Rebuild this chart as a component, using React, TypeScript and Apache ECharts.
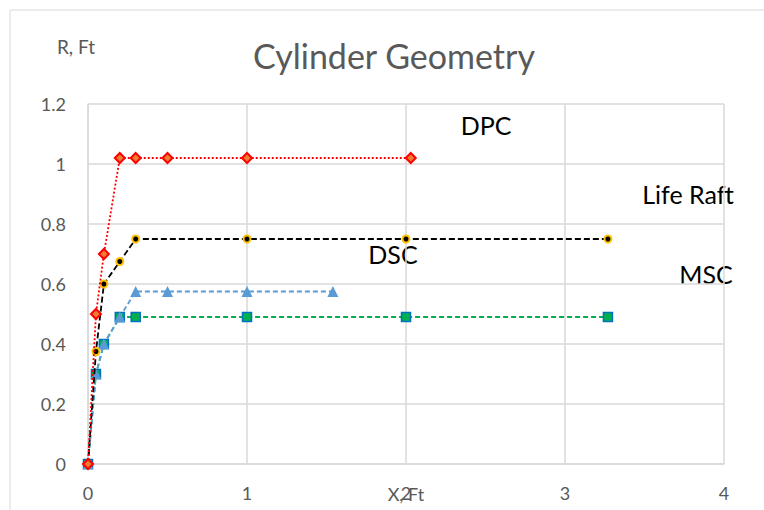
import React, { useEffect, useRef } from "react";
import * as echarts from "echarts";

const dpcX = [0, 0.05, 0.1, 0.2, 0.3, 0.5, 1, 2.03];
const dpcY = [0, 0.5, 0.7, 1.02, 1.02, 1.02, 1.02, 1.02];
const dscX = [0, 0.05, 0.1, 0.2, 0.3, 1, 2, 3.27];
const dscY = [0, 0.375, 0.6, 0.675, 0.75, 0.75, 0.75, 0.75];
const raftX = [0, 0.05, 0.1, 0.2, 0.3, 0.5, 1, 1.54];
const raftY = [0, 0.3, 0.4, 0.49, 0.575, 0.575, 0.575, 0.575];
const mscX = [0, 0.05, 0.1, 0.2, 0.3, 1, 2, 3.27];
const mscY = [0, 0.3, 0.4, 0.49, 0.49, 0.49, 0.49, 0.49];

const zip = (xs: number[], ys: number[]) => xs.map((x, i) => [x, ys[i]]);

const FONT = "Lato, 'Open Sans', sans-serif";

export default function App() {
  const ref = useRef<HTMLDivElement>(null);
  useEffect(() => {
    if (!ref.current) return;
    const chart = echarts.init(ref.current, undefined, { renderer: "svg" });
    chart.setOption({
      animation: false,
      backgroundColor: "#ffffff",
      textStyle: { fontFamily: FONT },
      grid: {
        left: 88,
        right: 40,
        top: 104,
        bottom: 46,
        containLabel: false,
        outerBoundsMode: "none",
      },
      xAxis: {
        type: "value",
        min: 0,
        max: 4,
        interval: 1,
        name: "X, Ft",
        nameLocation: "middle",
        nameGap: 21,
        nameMoveOverlap: false,
        nameTextStyle: { color: "#595959", fontSize: 18, fontFamily: FONT },
        axisLine: { show: true, lineStyle: { color: "#d9d9d9", width: 1.5 } },
        axisTick: { show: false },
        axisLabel: { color: "#595959", fontSize: 18, margin: 20, fontFamily: FONT },
        splitLine: { show: true, lineStyle: { color: "#d9d9d9", width: 1.5 } },
      },
      yAxis: {
        type: "value",
        min: 0,
        max: 1.2,
        interval: 0.2,
        axisLine: { show: true, lineStyle: { color: "#d9d9d9", width: 1.5 } },
        axisTick: { show: false },
        axisLabel: {
          color: "#595959",
          fontSize: 18,
          margin: 22,
          fontFamily: FONT,
          formatter: (v: number) => String(Math.round(v * 10) / 10),
        },
        splitLine: { show: true, lineStyle: { color: "#d9d9d9", width: 1.5 } },
      },
      series: [
        {
          name: "MSC",
          type: "line",
          data: zip(mscX, mscY),
          symbol: "rect",
          symbolSize: 9,
          lineStyle: { color: "#00B050", width: 1.8, type: [5, 3] },
          itemStyle: { color: "#00B050", borderColor: "#0070C0", borderWidth: 1.5 },
          z: 2,
        },
        {
          name: "Life Raft",
          type: "line",
          data: zip(raftX, raftY),
          symbol: "triangle",
          symbolSize: 11,
          lineStyle: { color: "#5B9BD5", width: 1.8, type: [5, 3] },
          itemStyle: { color: "#5B9BD5", borderColor: "#5B9BD5", borderWidth: 0 },
          z: 3,
        },
        {
          name: "DSC",
          type: "line",
          data: zip(dscX, dscY),
          symbol: "circle",
          symbolSize: 7,
          lineStyle: { color: "#000000", width: 1.8, type: [6, 3] },
          itemStyle: { color: "#000000", borderColor: "#FFC000", borderWidth: 2 },
          z: 4,
        },
        {
          name: "DPC",
          type: "line",
          data: zip(dpcX, dpcY),
          symbol: "diamond",
          symbolSize: 10,
          lineStyle: { color: "#FF0000", width: 1.8, type: [2, 2] },
          itemStyle: { color: "#ED7D31", borderColor: "#FF0000", borderWidth: 2 },
          z: 5,
        },
      ],
      graphic: [
        {
          type: "rect",
          shape: { x: 10, y: 10, width: 900, height: 700 },
          style: { fill: "none", stroke: "#d9d9d9", lineWidth: 1 },
          silent: true,
          z: -10,
        },
        {
          type: "text",
          x: 394,
          y: 55,
          style: {
            text: "Cylinder Geometry",
            fill: "#595959",
            fontSize: 34,
            fontFamily: FONT,
            textAlign: "center",
            textVerticalAlign: "middle",
          },
        },
        {
          type: "text",
          x: 76,
          y: 46,
          style: {
            text: "R, Ft",
            fill: "#595959",
            fontSize: 19,
            fontFamily: FONT,
            textAlign: "center",
            textVerticalAlign: "middle",
          },
        },
        ...[
          ["DPC", 486, 125],
          ["Life Raft", 688, 194],
          ["DSC", 393, 254],
          ["MSC", 706, 274],
        ].map(([t, x, y]) => ({
          type: "text",
          x: x as number,
          y: y as number,
          style: {
            text: t as string,
            fill: "#000000",
            fontSize: 25,
            fontFamily: FONT,
            textAlign: "center",
            textVerticalAlign: "middle",
          },
        })),
      ],
    });
    return () => chart.dispose();
  }, []);
  return (
    <div
      ref={ref}
      style={{ position: "fixed", left: 0, top: 0, width: 764, height: 510 }}
    />
  );
}
